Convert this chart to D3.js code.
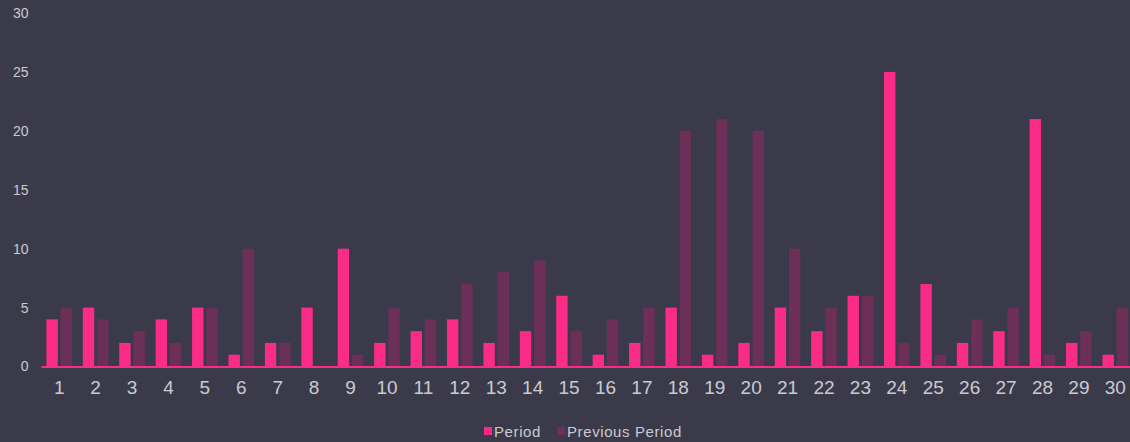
<!DOCTYPE html>
<html><head><meta charset="utf-8">
<script src="https://cdn.jsdelivr.net/npm/d3@7"></script>
<style>
html,body{margin:0;padding:0;background:#3b3a4b;}
svg{display:block;}
</style></head>
<body>
<svg id="chart" width="1130" height="442"></svg>
<script>
const categories = ["1","2","3","4","5","6","7","8","9","10","11","12","13","14","15","16","17","18","19","20","21","22","23","24","25","26","27","28","29","30"];
const period = [4,5,2,4,5,1,2,5,10,2,3,4,2,3,6,1,2,5,1,2,5,3,6,25,7,2,3,21,2,1];
const previousPeriod = [5,4,3,2,5,10,2,0,1,5,4,7,8,9,3,4,5,20,21,20,10,5,6,2,1,4,5,1,3,5];
const seriesNames = ["Period","Previous Period"];
const yTicks = [0,5,10,15,20,25,30];
const colors = ["#fb2c88","#6c2f58"];

const svg = d3.select("#chart");
const W = 1130, H = 442;
svg.append("rect").attr("width",W).attr("height",H).attr("fill","#3b3a4b");

const x = d3.scaleBand().domain(categories).range([41,1133.5]).paddingInner(0).paddingOuter(0);
const sub = d3.scaleBand().domain(seriesNames).range([0,x.bandwidth()]).paddingInner(0.2).paddingOuter(0.38);
const y = d3.scaleLinear().domain([0,30]).range([366.5,13]);

// y axis labels
const yAxis = svg.append("g").attr("transform","translate(28.5,0)")
  .call(d3.axisLeft(y).tickValues(yTicks).tickSize(0).tickPadding(0));
yAxis.select(".domain").remove();
yAxis.selectAll("text").attr("fill","#cacad0").style("font-family","Liberation Sans, Arial, sans-serif").style("font-size","14px");

const data = [period, previousPeriod];
const g = svg.append("g");
categories.forEach((c,i)=>{
  seriesNames.forEach((s,j)=>{
    const v = data[j][i];
    g.append("rect")
      .attr("x", x(c)+sub(s))
      .attr("width", sub.bandwidth())
      .attr("y", y(v))
      .attr("height", y(0)-y(v))
      .attr("fill", colors[j]);
  });
});

// x axis
const xAxis = svg.append("g").attr("transform",`translate(0,${y(0)})`)
  .call(d3.axisBottom(x).tickSize(0).tickPadding(14));
xAxis.select(".domain").attr("stroke","#fb2c88").attr("stroke-width",2);
xAxis.selectAll("text").attr("fill","#cacad0").style("font-family","Liberation Sans, Arial, sans-serif").style("font-size","19px");

// legend
const legend = svg.append("g").attr("transform","translate(484,432)");
const lx = [0, 73];
seriesNames.forEach((s,j)=>{
  const lg = legend.append("g").attr("transform",`translate(${lx[j]},0)`);
  lg.append("rect").attr("x",0).attr("y",-5).attr("width",8).attr("height",8).attr("fill",colors[j]);
  lg.append("text").attr("x",10).attr("y",0).attr("dy","0.35em").text(s)
    .attr("fill","#cacad0").style("font-family","Liberation Sans, Arial, sans-serif").style("font-size","15px").style("letter-spacing","0.6px");
});
</script>
</body></html>
